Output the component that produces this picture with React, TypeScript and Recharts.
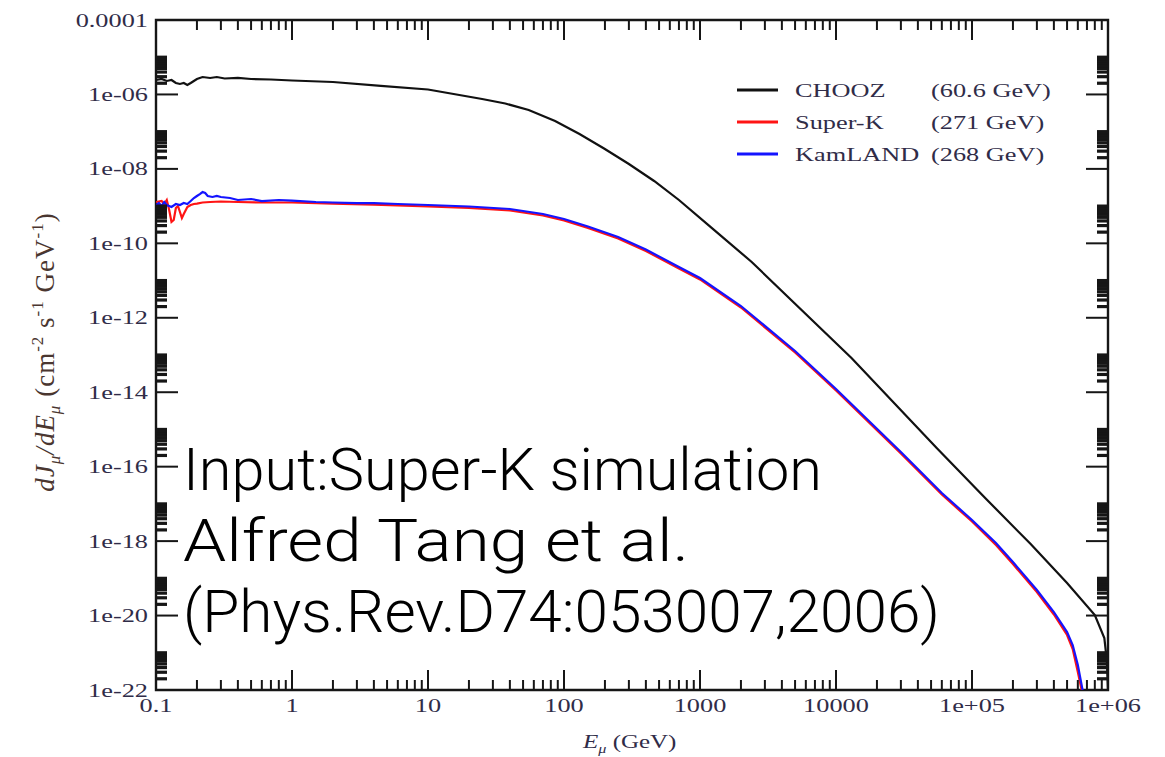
import React from 'react';
import { LineChart, Line, XAxis, YAxis, ReferenceArea, Legend, Label } from 'recharts';

// Muon energy E_mu (GeV) and differential flux dJ/dE (cm^-2 s^-1 GeV^-1) at each site
const choozEnergy = [0.1, 0.11, 0.12, 0.13, 0.14, 0.15, 0.16, 0.17, 0.18, 0.2, 0.22, 0.25, 0.28, 0.32, 0.4, 0.5, 0.7, 1, 2, 4.5, 10, 25, 37, 55, 86, 130, 197, 300, 460, 700, 1200, 2400, 13000, 55000, 125000, 270000, 500000, 800000, 940000, 980000, 1000000];
const choozFlux = [2.44e-6, 2.6e-6, 2.3e-6, 2.44e-6, 2.03e-6, 1.91e-6, 2.03e-6, 1.79e-6, 2.03e-6, 2.6e-6, 2.94e-6, 2.77e-6, 2.94e-6, 2.68e-6, 2.77e-6, 2.6e-6, 2.52e-6, 2.37e-6, 2.16e-6, 1.69e-6, 1.36e-6, 7.54e-7, 5.71e-7, 3.82e-7, 1.93e-7, 8.65e-8, 3.53e-8, 1.35e-8, 4.73e-9, 1.46e-9, 2.74e-10, 3.15e-11, 8.3e-14, 3.17e-16, 1.44e-17, 8.34e-19, 7.48e-20, 1.03e-20, 2.49e-21, 6.38e-22, 1e-22];

const superKEnergy = [0.1, 0.11, 0.115, 0.12, 0.125, 0.13, 0.135, 0.14, 0.145, 0.15, 0.155, 0.16, 0.17, 0.18, 0.19, 0.2, 0.22, 0.25, 0.3, 0.4, 0.6, 1, 2, 4, 10, 20, 40, 70, 100, 150, 250, 400, 700, 1000, 2000, 5000, 10000, 30000, 60000, 100000, 150000, 200000, 300000, 400000, 500000, 550000, 600000, 640000, 670000];
const superKFlux = [1.29e-9, 1.37e-9, 1.14e-9, 1.46e-9, 7.86e-10, 3.74e-10, 4.23e-10, 8.89e-10, 1.01e-9, 6.94e-10, 4.79e-10, 6.13e-10, 9.46e-10, 1.07e-9, 1.14e-9, 1.17e-9, 1.25e-9, 1.29e-9, 1.33e-9, 1.29e-9, 1.25e-9, 1.25e-9, 1.17e-9, 1.1e-9, 9.76e-10, 8.89e-10, 7.62e-10, 5.59e-10, 4.1e-10, 2.58e-10, 1.35e-10, 6.22e-11, 2.11e-11, 1.07e-11, 1.89e-12, 1.17e-13, 1.11e-14, 2.25e-16, 1.78e-17, 3.36e-18, 7.85e-19, 2.42e-19, 4.28e-20, 1.07e-20, 3.0e-21, 1.26e-21, 3.04e-22, 1e-22, 2.56e-23];

const kamlandEnergy = [0.1, 0.105, 0.11, 0.115, 0.12, 0.13, 0.14, 0.15, 0.16, 0.17, 0.18, 0.19, 0.2, 0.21, 0.22, 0.23, 0.24, 0.26, 0.28, 0.3, 0.35, 0.4, 0.5, 0.6, 0.8, 1, 1.5, 2, 3, 4, 6, 10, 20, 40, 70, 100, 150, 250, 400, 700, 1000, 2000, 5000, 10000, 30000, 60000, 100000, 150000, 200000, 300000, 400000, 500000, 550000, 600000, 650000, 680000];
const kamlandFlux = [1.07e-9, 1.21e-9, 1.01e-9, 1.29e-9, 1.07e-9, 9.46e-10, 1.14e-9, 1.07e-9, 1.21e-9, 1.14e-9, 1.37e-9, 1.65e-9, 1.87e-9, 2.11e-9, 2.39e-9, 2.25e-9, 1.87e-9, 1.76e-9, 1.87e-9, 1.76e-9, 1.65e-9, 1.46e-9, 1.55e-9, 1.37e-9, 1.46e-9, 1.41e-9, 1.29e-9, 1.25e-9, 1.21e-9, 1.21e-9, 1.14e-9, 1.07e-9, 9.76e-10, 8.36e-10, 6.13e-10, 4.5e-10, 2.83e-10, 1.48e-10, 6.82e-11, 2.31e-11, 1.17e-11, 2.07e-12, 1.28e-13, 1.22e-14, 2.47e-16, 1.96e-17, 3.69e-18, 8.88e-19, 2.74e-19, 4.85e-20, 1.24e-20, 3.61e-21, 1.61e-21, 4.69e-22, 1e-22, 2.9e-23];

const seriesNames = ['CHOOZ', 'Super-K', 'KamLAND'];
const meanEnergies = ['(60.6 GeV)', '(271 GeV)', '(268 GeV)'];
const seriesColors = ['#111111', '#ff1414', '#1414ff'];

const xMajorTicks = [0.1, 1, 10, 100, 1000, 10000, 1e5, 1e6];
const xTickLabels = ['0.1', '1', '10', '100', '1000', '10000', '1e+05', '1e+06'];
const yMajorTicks = [1e-22, 1e-20, 1e-18, 1e-16, 1e-14, 1e-12, 1e-10, 1e-8, 1e-6, 1e-4];
const yTickLabels = ['1e-22', '1e-20', '1e-18', '1e-16', '1e-14', '1e-12', '1e-10', '1e-08', '1e-06', '0.0001'];

const noteLines = ['Input:Super-K simulation', 'Alfred Tang et al.', '(Phys.Rev.D74:053007,2006)'];
const noteWidths = [639, 506, 757];

// Layout
const W = 1150;
const H = 749;
const PLOT_LEFT = 148;
const PLOT_TOP = 12;
const PLOT_RIGHT = 1100;
const PLOT_BOTTOM = 682;
const SERIF = "'Liberation Serif', 'Times New Roman', serif";
const TEXT_COLOR = '#302c48';
const TICK_COLOR = '#161616';
const STRETCH = 1.35;

const xMinorTicks = xMajorTicks.slice(0, -1).flatMap((m) => [2, 3, 4, 5, 6, 7, 8, 9].map((k) => m * k));
const yMinorTicks = yMajorTicks.slice(0, -1).flatMap((m) => [2, 3, 4, 5, 6, 7, 8, 9, 10].map((k) => m * k));
const xTicks = [...xMajorTicks, ...xMinorTicks].sort((a, b) => a - b);
const yTicks = [...yMajorTicks, ...yMinorTicks].sort((a, b) => a - b);

const toPoints = (energy: number[], flux: number[]) => energy.map((e, i) => ({ e, flux: flux[i] }));
const choozData = toPoints(choozEnergy, choozFlux);
const superKData = toPoints(superKEnergy, superKFlux);
const kamlandData = toPoints(kamlandEnergy, kamlandFlux);

// Bottom axis ticks, mirrored on the top edge of the frame
const XTick = (props: any) => {
  const { x, payload } = props;
  const idx = xMajorTicks.indexOf(payload.value);
  const len = idx >= 0 ? 20 : 10;
  return (
    <g>
      <line x1={x} x2={x} y1={PLOT_BOTTOM} y2={PLOT_BOTTOM - len} stroke={TICK_COLOR} strokeWidth={2} />
      <line x1={x} x2={x} y1={PLOT_TOP} y2={PLOT_TOP + len} stroke={TICK_COLOR} strokeWidth={2} />
      {idx >= 0 && (
        <text
          transform={`translate(${x},${PLOT_BOTTOM + 22}) scale(${STRETCH},1)`}
          textAnchor="middle"
          fontFamily={SERIF}
          fontSize={19.5}
          fill={TEXT_COLOR}
        >
          {xTickLabels[idx]}
        </text>
      )}
    </g>
  );
};

// Left axis ticks, mirrored on the right edge of the frame
const YTick = (props: any) => {
  const { y, payload } = props;
  const idx = yMajorTicks.indexOf(payload.value);
  const major = idx >= 0;
  const len = major ? 22 : 11;
  const sw = major ? 2 : 3.2;
  return (
    <g>
      <line x1={PLOT_LEFT} x2={PLOT_LEFT + len} y1={y} y2={y} stroke={TICK_COLOR} strokeWidth={sw} />
      <line x1={PLOT_RIGHT} x2={PLOT_RIGHT - len} y1={y} y2={y} stroke={TICK_COLOR} strokeWidth={sw} />
      {major && (
        <text
          transform={`translate(${PLOT_LEFT - 8},${y + 6.5}) scale(${STRETCH},1)`}
          textAnchor="end"
          fontFamily={SERIF}
          fontSize={19.5}
          fill={TEXT_COLOR}
        >
          {yTickLabels[idx]}
        </text>
      )}
    </g>
  );
};

const XTitle = () => (
  <text transform={`translate(575,740) scale(${STRETCH},1)`} fontFamily={SERIF} fontSize={18.5} fill={TEXT_COLOR}>
    <tspan fontStyle="italic">E</tspan>
    <tspan fontSize={12} dy={5} fontStyle="italic">μ</tspan>
    <tspan dy={-5}> (GeV)</tspan>
  </text>
);

const YTitle = () => (
  <text
    transform="translate(46,344) rotate(-90)"
    textAnchor="middle"
    fontFamily={SERIF}
    fontSize={27}
    letterSpacing={1}
    fill="#4a3630"
  >
    <tspan fontStyle="italic">dJ</tspan>
    <tspan fontSize={17} dy={6} fontStyle="italic">μ</tspan>
    <tspan dy={-6} fontStyle="italic">/dE</tspan>
    <tspan fontSize={17} dy={6} fontStyle="italic">μ</tspan>
    <tspan dy={-6}>{'  (cm'}</tspan>
    <tspan fontSize={17} dy={-11}>-2</tspan>
    <tspan dy={11}> s</tspan>
    <tspan fontSize={17} dy={-11}>-1</tspan>
    <tspan dy={11}> GeV</tspan>
    <tspan fontSize={17} dy={-11}>-1</tspan>
    <tspan dy={11}>)</tspan>
  </text>
);

const LegendBox = () => (
  <svg width={360} height={100} style={{ display: 'block', overflow: 'visible' }}>
    {seriesNames.map((name, i) => {
      const cy = 12 + i * 32;
      return (
        <g key={name}>
          <line x1={9} x2={50} y1={cy} y2={cy} stroke={seriesColors[i]} strokeWidth={3} />
          <text transform={`translate(67,${cy + 6.5}) scale(${STRETCH},1)`} fontFamily={SERIF} fontSize={19.5} fill={TEXT_COLOR}>
            {name}
          </text>
          <text transform={`translate(203,${cy + 6.5}) scale(${STRETCH},1)`} fontFamily={SERIF} fontSize={19.5} fill={TEXT_COLOR}>
            {meanEnergies[i]}
          </text>
        </g>
      );
    })}
  </svg>
);

export default function App() {
  return (
    <div style={{ position: 'relative', width: W, height: H }}>
      <LineChart width={W} height={H} margin={{ top: PLOT_TOP, right: W - PLOT_RIGHT, bottom: 0, left: 0 }}>
        <XAxis
          dataKey="e"
          type="number"
          scale="log"
          domain={[0.1, 1e6]}
          allowDataOverflow
          ticks={xTicks}
          interval={0}
          height={H - PLOT_BOTTOM}
          tickLine={false}
          axisLine={false}
          tick={XTick}
        >
          <Label content={XTitle} />
        </XAxis>
        <YAxis
          type="number"
          scale="log"
          domain={[1e-22, 1e-4]}
          allowDataOverflow
          ticks={yTicks}
          interval={0}
          width={PLOT_LEFT}
          tickLine={false}
          axisLine={false}
          tick={YTick}
        >
          <Label content={YTitle} />
        </YAxis>
        <ReferenceArea x1={0.1} x2={1e6} y1={1e-22} y2={1e-4} fill="none" stroke={TICK_COLOR} strokeWidth={2.4} />
        <Line data={choozData} dataKey="flux" name={seriesNames[0]} stroke={seriesColors[0]} strokeWidth={2.2} dot={false} type="linear" isAnimationActive={false} />
        <Line data={superKData} dataKey="flux" name={seriesNames[1]} stroke={seriesColors[1]} strokeWidth={2.2} dot={false} type="linear" isAnimationActive={false} />
        <Line data={kamlandData} dataKey="flux" name={seriesNames[2]} stroke={seriesColors[2]} strokeWidth={2.2} dot={false} type="linear" isAnimationActive={false} />
        <Legend
          layout="vertical"
          align="center"
          verticalAlign="middle"
          content={LegendBox}
          wrapperStyle={{ left: 720, top: 70, width: 360, height: 100 }}
        />
      </LineChart>
      <svg width={W} height={H} style={{ position: 'absolute', left: 0, top: 0, pointerEvents: 'none' }}>
        {noteLines.map((line, i) => (
          <text
            key={line}
            x={175}
            y={482 + i * 71}
            textLength={noteWidths[i]}
            lengthAdjust="spacingAndGlyphs"
            fontFamily="Roboto, 'Liberation Sans', sans-serif"
            fontWeight={300}
            fontSize={60}
            fill="#000"
          >
            {line}
          </text>
        ))}
      </svg>
    </div>
  );
}
